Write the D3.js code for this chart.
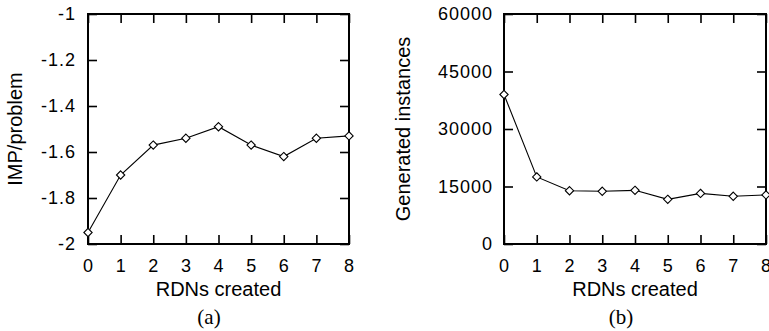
<!DOCTYPE html>
<html>
<head>
<meta charset="utf-8">
<script src="https://cdn.jsdelivr.net/npm/d3@7"></script>
<style>
  body { margin: 0; background: #fff; }
  svg { display: block; }
  .tick text { font-family: "Liberation Sans", Arial, sans-serif; font-size: 18px; letter-spacing: 1px; fill: #000; }
  .tick line { stroke: #000; stroke-width: 1.6; }
  .title { font-family: "Liberation Sans", Arial, sans-serif; font-size: 20px; fill: #000; }
  .cap { font-family: "Liberation Serif", "Times New Roman", serif; font-size: 21px; fill: #000; }
</style>
</head>
<body>
<div id="chart"></div>
<script>
// x categories (RDNs created)
const rdns = [0, 1, 2, 3, 4, 5, 6, 7, 8];
// (a) IMP/problem
const impPerProblem = [-1.95, -1.70, -1.57, -1.54, -1.49, -1.57, -1.62, -1.54, -1.53];
// (b) generated instances
const generated = [39000, 17500, 13900, 13750, 14000, 11650, 13200, 12450, 12800];
const ticksA = [-2, -1.8, -1.6, -1.4, -1.2, -1];
const ticksB = [0, 15000, 30000, 45000, 60000];

const width = 769;
const height = 331;

const svg = d3.select('#chart')
  .append('svg')
  .attr('width', width)
  .attr('height', height)
  .style('background-color', '#fff');

const diamond = d3.symbol().type(d3.symbolDiamond2).size(44);

const drawPanel = (opt) => {
  const xscale = d3.scaleLinear().domain([0, 8]).range([opt.left, opt.right]);
  const yscale = d3.scaleLinear().domain(opt.domain).range([opt.bottom, opt.top]);
  const tick = 9;

  const g = svg.append('g');

  // mirrored ticks on top and right, no labels
  g.append('g')
    .attr('transform', `translate(0,${opt.top})`)
    .call(d3.axisTop(xscale).tickValues(rdns).tickSizeInner(-tick).tickSizeOuter(0).tickFormat(''))
    .call(a => a.select('.domain').remove());
  g.append('g')
    .attr('transform', `translate(${opt.right},0)`)
    .call(d3.axisRight(yscale).tickValues(opt.ticks).tickSizeInner(-tick).tickSizeOuter(0).tickFormat(''))
    .call(a => a.select('.domain').remove());

  g.append('g')
    .attr('transform', `translate(0,${opt.bottom})`)
    .call(d3.axisBottom(xscale).tickValues(rdns).tickSizeInner(-tick).tickSizeOuter(0).tickPadding(15).tickFormat(d3.format('d')))
    .call(a => a.select('.domain').remove());
  g.append('g')
    .attr('transform', `translate(${opt.left},0)`)
    .call(d3.axisLeft(yscale).tickValues(opt.ticks).tickSizeInner(-tick).tickSizeOuter(0).tickPadding(opt.ypad).tickFormat(opt.fmt))
    .call(a => a.select('.domain').remove());

  // frame
  g.append('rect')
    .attr('x', opt.left)
    .attr('y', opt.top)
    .attr('width', opt.right - opt.left)
    .attr('height', opt.bottom - opt.top)
    .attr('fill', 'none')
    .attr('stroke', '#000')
    .attr('stroke-width', 2);

  const line = d3.line()
    .x((d, i) => xscale(rdns[i]))
    .y(d => yscale(d));

  g.append('path')
    .datum(opt.values)
    .attr('d', line)
    .attr('fill', 'none')
    .attr('stroke', '#000')
    .attr('stroke-width', 1.1);

  g.selectAll('.pt')
    .data(opt.values)
    .enter()
    .append('path')
    .attr('class', 'pt')
    .attr('d', diamond)
    .attr('transform', (d, i) => `translate(${xscale(rdns[i])},${yscale(d)})`)
    .attr('fill', '#fff')
    .attr('stroke', '#000')
    .attr('stroke-width', 1.1);

  g.append('text')
    .attr('class', 'title')
    .attr('x', (opt.left + opt.right) / 2)
    .attr('y', 296)
    .attr('text-anchor', 'middle')
    .text('RDNs created');

  g.append('text')
    .attr('class', 'title')
    .attr('transform', `translate(${opt.ylabelX},${(opt.top + opt.bottom) / 2}) rotate(-90)`)
    .attr('text-anchor', 'middle')
    .text(opt.ylabel);

  g.append('text')
    .attr('class', 'cap')
    .attr('x', opt.capX)
    .attr('y', 324)
    .attr('text-anchor', 'middle')
    .text(opt.cap);
};

drawPanel({
  left: 88, right: 349, top: 14, bottom: 244,
  domain: [-2, -1], ticks: ticksA, values: impPerProblem,
  fmt: d => d3.format('')(d).replace('\u2212', '-'),
  ypad: 12, ylabel: 'IMP/problem', ylabelX: 22, cap: '(a)', capX: 209
});

drawPanel({
  left: 504, right: 766, top: 14, bottom: 244,
  domain: [0, 60000], ticks: ticksB, values: generated,
  fmt: d3.format('d'),
  ypad: 11, ylabel: 'Generated instances', ylabelX: 410, cap: '(b)', capX: 621
});
</script>
</body>
</html>
